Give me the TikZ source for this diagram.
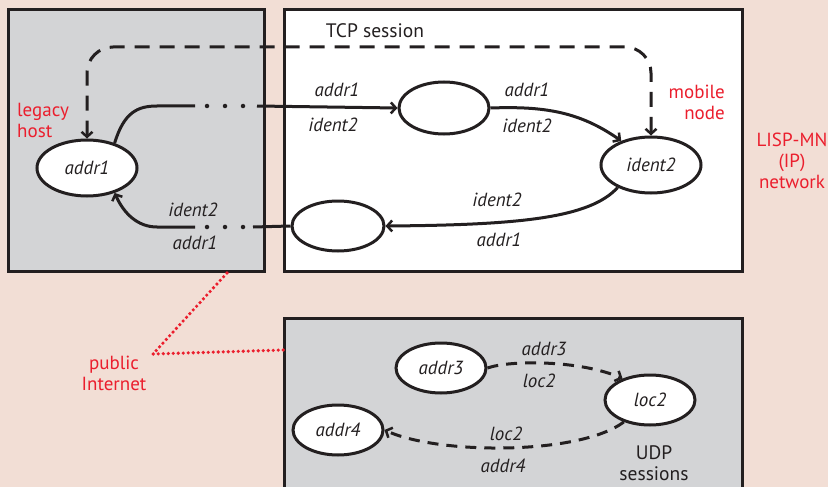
\documentclass[tikz,border=0pt]{standalone}
\usepackage{fontspec}
\setmainfont{PT Sans}
\usetikzlibrary{arrows.meta,shapes.geometric}
\definecolor{bgpink}{RGB}{242,222,213}
\definecolor{boxgray}{RGB}{211,212,214}
\definecolor{ink}{RGB}{35,31,32}
\definecolor{labred}{RGB}{235,30,45}
\tikzset{
  panel/.style={draw=ink,line width=3pt},
  host/.style={draw=ink,fill=white,ellipse,line width=3pt,inner sep=0pt},
  lbl/.style={font=\fontsize{19}{21}\selectfont\itshape,text=ink,inner sep=0pt},
  plain/.style={font=\fontsize{19.5}{21}\selectfont,text=ink,inner sep=0pt},
  redlbl/.style={font=\fontsize{19}{21}\selectfont,text=labred,inner sep=0pt,align=center},
  flow/.style={draw=ink,line width=3pt},
  tip/.style={-{Straight Barb[length=5pt,width=11pt,line width=2.5pt]}},
  dots/.style={draw=ink,line width=4.5pt,line cap=round,dash pattern=on 0pt off 18pt},
  sess/.style={draw=ink,line width=3pt,dash pattern=on 15pt off 10pt},
  udp/.style={draw=ink,line width=3pt,dash pattern=on 11pt off 8pt},
  reddots/.style={draw=labred,line width=3.6pt,line cap=round,dash pattern=on 0pt off 5pt},
}
\begin{document}
\begin{tikzpicture}[x=1pt,y=-1pt]
\useasboundingbox (0,0) rectangle (828,487);
\fill[bgpink] (0,0) rectangle (828,487);

% panels
\filldraw[panel,fill=boxgray] (8,10) rectangle (264,271);
\filldraw[panel,fill=white] (284,10) rectangle (742,271);
\filldraw[panel,fill=boxgray] (284,318) rectangle (742,500);

% hosts of the TCP session
\node[host,minimum width=100pt,minimum height=56pt,lbl] (a1) at (87,168) {addr1};
\node[host,minimum width=90pt,minimum height=52pt] (e1) at (444,108) {};
\node[host,minimum width=100pt,minimum height=56pt,lbl] (i2) at (651,165) {ident2};
\node[host,minimum width=92pt,minimum height=50pt] (e2) at (338,226) {};

% hosts of the UDP sessions
\node[host,minimum width=90pt,minimum height=50pt,lbl] (a3) at (441,368) {addr3};
\node[host,minimum width=90pt,minimum height=50pt,lbl] (l2) at (650,400) {loc2};
\node[host,minimum width=90pt,minimum height=50pt,lbl] (a4) at (338,430) {addr4};

% outgoing path addr1 -> ident2
\coordinate (o1) at (157,106);
\coordinate (o2) at (195,106);
\coordinate (o3) at (207,106);
\coordinate (o4) at (243,106);
\coordinate (o5) at (257,106);
\draw[flow] (a1.42) .. controls (124,112) and (138,106) .. (o1) -- (o2);
\draw[dots] (o3) -- (o4);
\draw[flow,tip] (o5) -- (e1.west);
\draw[flow,tip] (e1.east) .. controls (545,106) and (580,112) .. (i2.141);

% return path ident2 -> addr1
\coordinate (r1) at (253,227);
\coordinate (r2) at (243,227);
\coordinate (r3) at (207,227);
\coordinate (r4) at (195,227);
\coordinate (r5) at (157,227);
\draw[flow,tip] (i2.214) .. controls (590,218) and (520,225) .. (e2.east);
\draw[flow] (e2.west) -- (r1);
\draw[dots] (r2) -- (r3);
\draw[flow,tip] (r4) -- (r5) .. controls (138,227) and (124,214) .. (a1.-42);

% end-to-end TCP session
\coordinate (tcp) at (375,47);
\draw[sess,{Straight Barb[length=5pt,width=11pt,line width=2.5pt]}-{Straight Barb[length=5pt,width=11pt,line width=2.5pt]},rounded corners=26pt]
  (a1.north) |- (tcp) -| (i2.north);
\node[plain] at (375,31) {TCP session};

% path labels
\node[lbl] at (337,90) {addr1};
\node[lbl] at (333,125) {ident2};
\node[lbl] at (527,90) {addr1};
\node[lbl] at (527,126) {ident2};
\node[lbl] at (497,200) {ident2};
\node[lbl] at (499,240) {addr1};
\node[lbl] at (193,210) {ident2};
\node[lbl] at (195,243) {addr1};

% UDP sessions
\draw[udp,tip] (a3.east) .. controls (510,360) and (580,360) .. (l2.142);
\draw[udp,tip] (l2.-140) .. controls (580,455) and (440,455) .. (a4.east);
\node[lbl] at (544,349) {addr3};
\node[lbl] at (539,381) {loc2};
\node[lbl] at (506,434) {loc2};
\node[lbl] at (503,466) {addr4};
\node[plain,align=center] at (654,463) {UDP\\sessions};

% network labels
\node[redlbl,align=left,anchor=west] at (17,120) {legacy\\host};
\node[redlbl,align=right,anchor=east] at (725,102) {mobile\\node};
\node[redlbl] at (792,161) {LISP-MN\\(IP)\\network};

% public Internet
\coordinate (n1) at (227,273);
\coordinate (n2) at (153,354);
\coordinate (n3) at (284,350);
\draw[reddots] (n1) -- (n2) -- (n3);
\node[redlbl] at (114,373) {public\\Internet};
\end{tikzpicture}
\end{document}
